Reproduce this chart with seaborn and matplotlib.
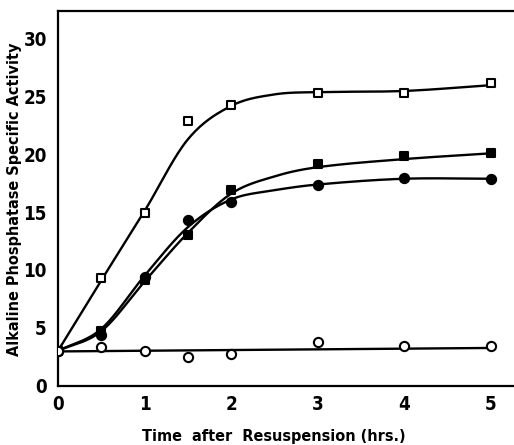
import numpy as np
import pandas as pd
import matplotlib
matplotlib.use("Agg")
import matplotlib.pyplot as plt
import seaborn as sns
from matplotlib import font_manager

# Measured activities at each sampling time
times = [0, 0.5, 1, 1.5, 2, 3, 4, 5]
open_squares = [3.0, 9.3, 14.9, 22.9, 24.3, 25.35, 25.3, 26.2]
filled_squares = [3.0, 4.7, 9.1, 13.0, 16.9, 19.15, 19.9, 20.15]
filled_circles = [3.0, 4.4, 9.4, 14.3, 15.9, 17.4, 18.0, 17.9]
open_circles = [3.0, 3.3, 3.0, 2.5, 2.75, 3.8, 3.4, 3.4]

# Hand-fitted smooth curves through the measurements (knot values)
fit_times = [0, 0.5, 1, 1.5, 2, 2.5, 3, 4, 5]
open_squares_fit = [3.0, 9.1, 15.1, 21.3, 24.2, 25.2, 25.4, 25.5, 26.0]
filled_squares_fit = [3.0, 4.7, 9.0, 13.2, 16.6, 18.1, 18.9, 19.6, 20.1]
filled_circles_fit = [3.0, 4.9, 9.5, 13.7, 16.1, 16.9, 17.4, 17.9, 17.9]
open_circles_fit_times = [0, 5]
open_circles_fit = [2.95, 3.25]

x_ticks = [0, 1, 2, 3, 4, 5]
y_ticks = [0, 5, 10, 15, 20, 25, 30]


def cardinal(xk, yk, xs):
    """Smooth Hermite curve with centred-difference slopes at the knots."""
    xk = np.asarray(xk, float)
    yk = np.asarray(yk, float)
    n = len(xk)
    h = np.diff(xk)
    m = np.zeros(n)
    if n == 2:
        m[:] = (yk[1] - yk[0]) / h[0]
    else:
        m[0] = (yk[1] - yk[0]) / h[0]
        m[-1] = (yk[-1] - yk[-2]) / h[-1]
        m[1:-1] = (yk[2:] - yk[:-2]) / (xk[2:] - xk[:-2])
    idx = np.clip(np.searchsorted(xk, xs) - 1, 0, n - 2)
    t = (xs - xk[idx]) / h[idx]
    h00 = 2 * t**3 - 3 * t**2 + 1
    h10 = t**3 - 2 * t**2 + t
    h01 = -2 * t**3 + 3 * t**2
    h11 = t**3 - t**2
    return (h00 * yk[idx] + h10 * h[idx] * m[idx]
            + h01 * yk[idx + 1] + h11 * h[idx] * m[idx + 1])


sns.set_theme(style="white")
plt.rcParams["font.family"] = ["DejaVu Sans"]
plt.rcParams["font.stretch"] = "condensed"
plt.rcParams["font.weight"] = "bold"

fp_ticks = font_manager.FontProperties(family="DejaVu Sans", stretch="condensed",
                                       weight="bold", size=13.5)
fp_label = font_manager.FontProperties(family="DejaVu Sans", stretch="condensed",
                                       weight="bold", size=11.6)

fig = plt.figure(figsize=(5.14, 4.45), dpi=100)
ax = fig.add_axes([0.1128, 0.1337, 0.8872, 0.8423])

curves = [
    (fit_times, open_squares_fit),
    (fit_times, filled_squares_fit),
    (fit_times, filled_circles_fit),
    (open_circles_fit_times, open_circles_fit),
]
for xk, yk in curves:
    xs = np.linspace(xk[0], xk[-1], 300)
    ys = cardinal(xk, yk, xs)
    sns.lineplot(x=xs, y=ys, ax=ax, color="black", linewidth=1.7,
                 estimator=None, sort=False, zorder=2)

series = [
    (open_squares, "s", "white"),
    (filled_squares, "s", "black"),
    (filled_circles, "o", "black"),
    (open_circles, "o", "white"),
]
for values, marker, face in series:
    df = pd.DataFrame({"t": times, "v": values})
    sns.scatterplot(data=df, x="t", y="v", ax=ax, marker=marker,
                    s=36 if marker == "s" else 44, facecolor=face,
                    edgecolor="black", linewidth=1.5, zorder=3)

ax.set_xlim(0, 5.27)
ax.set_ylim(0, 32.45)
ax.set_xticks(x_ticks)
ax.set_yticks(y_ticks)
ax.set_xticklabels([str(v) for v in x_ticks], fontproperties=fp_ticks)
ax.set_yticklabels([str(v) for v in y_ticks], fontproperties=fp_ticks)
ax.tick_params(axis="both", direction="in", length=6, width=1.5,
               colors="black")
ax.tick_params(axis="x", pad=7)
ax.tick_params(axis="y", pad=8)

for side in ["left", "bottom", "top"]:
    ax.spines[side].set_visible(True)
    ax.spines[side].set_color("black")
    ax.spines[side].set_linewidth(1.6)
ax.spines["right"].set_visible(False)
ax.set_xlabel("")
ax.set_ylabel("")
ax.grid(False)

fig.text(0.532, 0.018, "Time  after  Resuspension (hrs.)", fontproperties=fp_label,
         ha="center", va="center", color="black")
fig.text(0.029, 0.553, "Alkaline Phosphatase Specific Activity", fontproperties=fp_label,
         ha="center", va="center", rotation=90, color="black")

fig.savefig("out.png", dpi=100)
